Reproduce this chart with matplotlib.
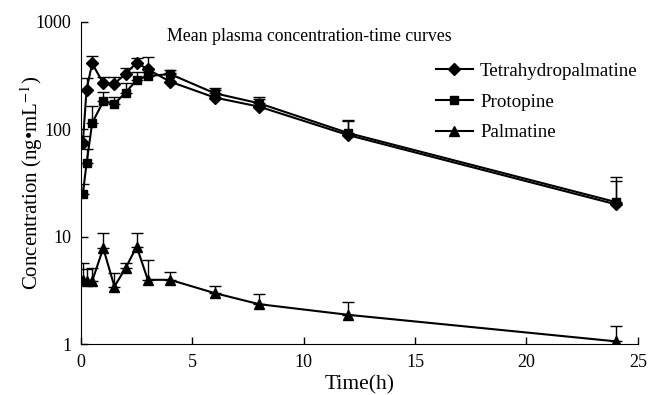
import numpy as np
import matplotlib
matplotlib.use('Agg')
import matplotlib.pyplot as plt

plt.rcParams['font.family'] = ['Liberation Serif', 'DejaVu Serif']
plt.rcParams['mathtext.fontset'] = 'stix'

time_h = [0.083, 0.25, 0.5, 1, 1.5, 2, 2.5, 3, 4, 6, 8, 12, 24]

thp_mean = [75, 232, 410, 267, 265, 327, 416, 360, 277, 197, 162, 88, 20]
thp_top = [86, 302, 483, 308, 308, 369, 457, 473, 330, 232, 190, 120, 33]

pro_mean = [25, 48, 114, 181, 172, 219, 287, 312, 326, 216, 174, 92, 21]
pro_top = [31, 66, 166, 221, 201, 271, 343, 340, 356, 240, 198, 122, 36]

pal_mean = [3.96, 3.9, 3.85, 7.8, 3.43, 5.09, 8.07, 3.96, 3.96, 2.98, 2.35, 1.87, 1.06]
pal_top = [5.66, 4.98, 5.1, 10.9, 4.63, 5.66, 10.9, 6.07, 4.67, 3.5, 2.92, 2.46, 1.46]

series = [
    ('Tetrahydropalmatine', thp_mean, thp_top, 'D', 6),
    ('Protopine', pro_mean, pro_top, 's', 6),
    ('Palmatine', pal_mean, pal_top, '^', 7.5),
]

fig = plt.figure(figsize=(6.49, 3.95), dpi=100)
ax = fig.add_axes([0.1248, 0.129, 0.858, 0.816])

for name, mean, top, marker, ms in series:
    mean = np.array(mean)
    upper = np.array(top) - mean
    ax.errorbar(
        time_h, mean, yerr=[np.zeros_like(mean), upper],
        color='black', marker=marker, markersize=ms, linewidth=1.5,
        elinewidth=1, capsize=4, capthick=1, label=name)

ax.set_yscale('log')
ax.set_xlim(0, 25)
ax.set_ylim(1, 1000)
ax.set_xticks([0, 5, 10, 15, 20, 25])
ax.set_yticks([1, 10, 100, 1000])
ax.set_yticklabels(['1', '10', '100', '1000'])
ax.yaxis.set_minor_locator(matplotlib.ticker.NullLocator())
ax.tick_params(direction='in', length=5, width=1, labelsize=13, pad=7)
ax.spines['top'].set_visible(False)
ax.spines['right'].set_visible(False)

ax.set_xlabel('Time(h)', fontsize=15.5, labelpad=3)
ax.set_ylabel('Concentration (ng•mL$^{-1}$)', fontsize=15)
ax.yaxis.set_label_coords(-0.065, 0.5)
ax.text(0.155, 0.98, 'Mean plasma concentration-time curves',
        transform=ax.transAxes, fontsize=12.75, va='top')

handles, labels = ax.get_legend_handles_labels()
handles = [h[0] for h in handles]
ax.legend(handles, labels, loc='upper right', bbox_to_anchor=(1.0, 0.873),
          frameon=False, fontsize=13.7, handlelength=1.95, labelspacing=0.7,
          handletextpad=0.37, borderpad=0, borderaxespad=0)

fig.savefig('out.png', dpi=100)
